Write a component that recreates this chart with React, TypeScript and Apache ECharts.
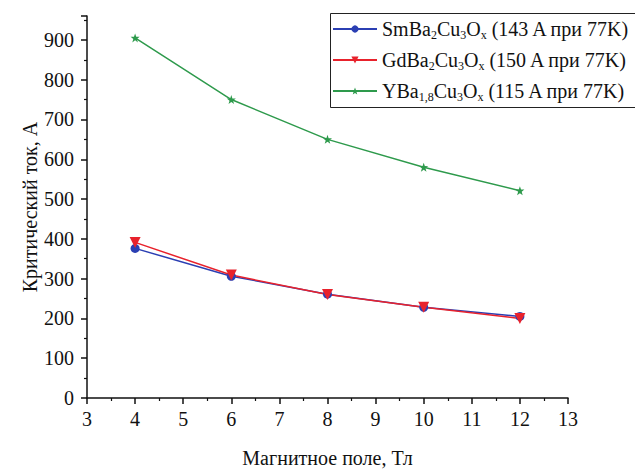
import React, { useEffect, useRef } from "react";
import * as echarts from "echarts";

const fieldT = [4, 6, 8, 10, 12];
const smValues = [376, 306, 261, 228, 205];
const gdValues = [391, 309, 260, 228, 200];
const yValues = [905, 750, 650, 580, 521];
const seriesNames = ["SmBa2Cu3Ox", "GdBa2Cu3Ox", "YBa1.8Cu3Ox"];
const legendLabels = [
  "SmBa{s|2}Cu{s|3}O{s|x} (143 A при 77K)",
  "GdBa{s|2}Cu{s|3}O{s|x} (150 A при 77K)",
  "YBa{s|1,8}Cu{s|3}O{s|x} (115 A при 77K)",
];
const xTitle = "Магнитное поле, Тл";
const yTitle = "Критический ток, А";

const FONT = "Liberation Serif, serif";
const STAR =
  "path://M0,-10 L2.4,-3.2 9.5,-3.1 3.8,1.2 5.9,8.1 0,4 -5.9,8.1 -3.8,1.2 -9.5,-3.1 -2.4,-3.2 Z";

export default function App() {
  const ref = useRef<HTMLDivElement>(null);
  useEffect(() => {
    const chart = echarts.init(ref.current!, null, { renderer: "svg" });
    const pairs = (vals: number[]) => fieldT.map((x, i) => [x, vals[i]]);
    const txt = { fontFamily: FONT, fontSize: 20, color: "#111" };
    chart.setOption({
      animation: false,
      backgroundColor: "#ffffff",
      textStyle: { fontFamily: FONT },
      grid: { left: 87, right: 67, top: 16, bottom: 69, containLabel: false },
      graphic: [
        {
          type: "rect",
          left: 330,
          top: 13,
          shape: { width: 330, height: 94 },
          style: { fill: "#ffffff", stroke: "#222", lineWidth: 1 },
          z: 0,
          silent: true,
        },
      ],
      legend: {
        orient: "vertical",
        left: 330,
        top: 14,
        itemWidth: 44,
        itemHeight: 9,
        itemGap: 9,
        padding: [5, 4, 4, 2],
        borderWidth: 0,
        z: 10,
        data: seriesNames,
        formatter: (name: string) => legendLabels[seriesNames.indexOf(name)],
        textStyle: {
          ...txt,
          rich: {
            s: { fontFamily: FONT, fontSize: 12, color: "#111", padding: [12, 0, 0, 0] },
          },
        },
      },
      xAxis: {
        type: "value",
        min: 3,
        max: 13,
        interval: 1,
        name: xTitle,
        nameLocation: "middle",
        nameGap: 50,
        nameMoveOverlap: false,
        nameTextStyle: { ...txt },
        axisLine: { show: true, lineStyle: { color: "#111", width: 1.5 } },
        axisTick: { show: true, length: 6, lineStyle: { color: "#111", width: 1.5 } },
        minorTick: { show: true, splitNumber: 2, length: 3, lineStyle: { color: "#111", width: 1.2 } },
        axisLabel: { ...txt, margin: 11 },
        splitLine: { show: false },
      },
      yAxis: {
        type: "value",
        min: 0,
        max: 960,
        interval: 100,
        name: yTitle,
        nameLocation: "middle",
        nameGap: 47,
        nameMoveOverlap: false,
        nameTextStyle: { ...txt },
        axisLine: { show: true, lineStyle: { color: "#111", width: 1.5 } },
        axisTick: { show: true, length: 6, lineStyle: { color: "#111", width: 1.5 } },
        minorTick: { show: true, splitNumber: 2, length: 3, lineStyle: { color: "#111", width: 1.2 } },
        axisLabel: { ...txt, margin: 13, showMaxLabel: false },
        splitLine: { show: false },
      },
      series: [
        {
          name: seriesNames[0],
          type: "line",
          data: pairs(smValues),
          symbol: "circle",
          symbolSize: 9,
          itemStyle: { color: "#2b3fb3" },
          lineStyle: { color: "#2b3fb3", width: 1.5 },
        },
        {
          name: seriesNames[1],
          type: "line",
          data: pairs(gdValues),
          symbol: "triangle",
          symbolRotate: 180,
          symbolSize: 11,
          itemStyle: { color: "#e8222c" },
          lineStyle: { color: "#e8222c", width: 1.5 },
        },
        {
          name: seriesNames[2],
          type: "line",
          data: pairs(yValues),
          symbol: STAR,
          symbolSize: 9,
          itemStyle: { color: "#2e9a4c" },
          lineStyle: { color: "#2e9a4c", width: 1.5 },
        },
      ],
    });
    return () => chart.dispose();
  }, []);
  return (
    <div
      ref={ref}
      style={{ position: "fixed", left: 0, top: 0, width: 635, height: 473 }}
    />
  );
}
